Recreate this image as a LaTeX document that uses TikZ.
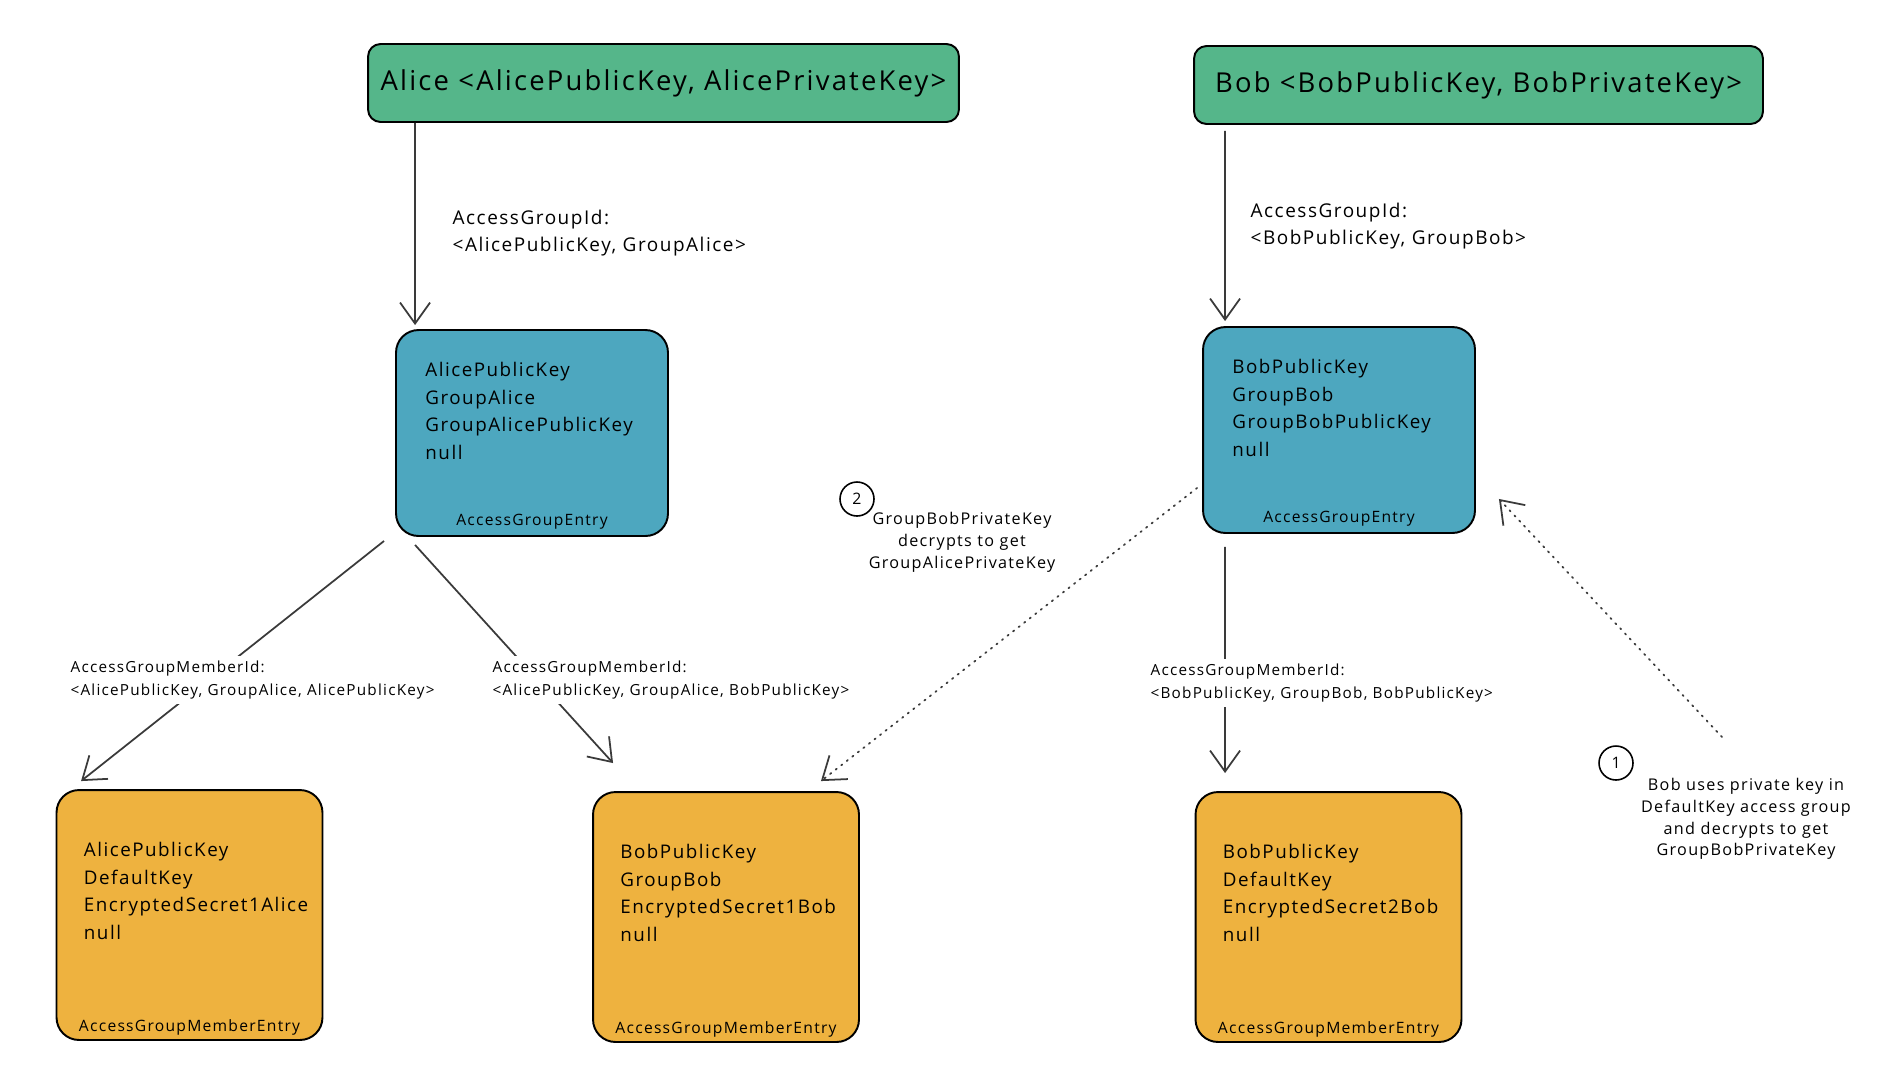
\documentclass[tikz,border=0pt]{standalone}
\usepackage{fontspec}
\setmainfont{Open Sans}[LetterSpace=8]
\usetikzlibrary{arrows.meta,positioning}

\definecolor{keygreen}{HTML}{55B68A}
\definecolor{entryblue}{HTML}{4DA7BF}
\definecolor{memberorange}{HTML}{EEB23F}
\definecolor{ink}{HTML}{3A3A3A}

\tikzset{
	%Define standard arrow tip
	>={Straight Barb[length=0.42cm,width=0.6cm]},
	%Define style for the key pair boxes
	keypair/.style={
		rectangle,
		rounded corners=0.25cm,
		draw=black, line width=1.1pt,
		fill=keygreen,
		minimum height=1.56cm,
		font=\fontsize{15.6}{18}\selectfont},
	%Define style for the entry boxes
	groupentry/.style={
		rectangle,
		rounded corners=0.45cm,
		draw=black, line width=1.1pt,
		fill=entryblue,
		minimum width=5.44cm,
		minimum height=4.12cm},
	memberentry/.style={
		groupentry,
		fill=memberorange,
		minimum width=5.32cm,
		minimum height=5cm},
	% text inside the boxes
	fields/.style={
		inner sep=0pt,
		align=left,
		font=\fontsize{10.7}{15.7}\selectfont},
	entryname/.style={
		inner sep=0pt,
		font=\fontsize{8.9}{12}\selectfont},
	% labels on the arrows
	groupid/.style={
		fill=white, inner sep=3pt, anchor=west, align=left,
		font=\fontsize{10.8}{15.7}\selectfont},
	memberid/.style={
		fill=white, inner sep=3pt, anchor=west, align=left,
		font=\fontsize{8.7}{13}\selectfont},
	stepnum/.style={
		circle, draw=black, line width=0.9pt,
		minimum size=0.68cm, inner sep=0pt,
		font=\fontsize{9}{10}\selectfont},
	note/.style={
		align=center,
		font=\fontsize{9.2}{12.4}\selectfont},
	% Define arrow styles
	pil/.style={
		->,
		draw=ink,
		line width=1pt},
	hint/.style={
		->,
		draw=ink,
		line width=1pt,
		dash pattern=on 0.8pt off 3.2pt,
		line cap=round}
}

\begin{document}
\begin{tikzpicture}[x=0.02cm, y=-0.02cm]
	\useasboundingbox (0,0) rectangle (1882,1066);

	\node[keypair, minimum width=11.82cm] (alice) at (663.5,83) {Alice <AlicePublicKey, AlicePrivateKey>};
	\node[keypair, minimum width=11.38cm] (bob) at (1478.5,85) {Bob <BobPublicKey, BobPrivateKey>};

	\node[groupentry] (agAlice) at (532,433) {};
	\node[fields, below right=0.66cm and 0.6cm of agAlice.north west] (agAlice-f) {AlicePublicKey\\ GroupAlice\\ GroupAlicePublicKey\\ null};
	\node[entryname, above=0.14cm of agAlice.south] (agAlice-n) {AccessGroupEntry};

	\node[groupentry] (agBob) at (1339,430) {};
	\node[fields, below right=0.66cm and 0.6cm of agBob.north west] (agBob-f) {BobPublicKey\\ GroupBob\\ GroupBobPublicKey\\ null};
	\node[entryname, above=0.14cm of agBob.south] (agBob-n) {AccessGroupEntry};

	\node[memberentry] (memAlice) at (189.5,915) {};
	\node[fields, below right=1.06cm and 0.56cm of memAlice.north west] (memAlice-f) {AlicePublicKey\\ DefaultKey\\ EncryptedSecret1Alice\\ null};
	\node[entryname, above=0.1cm of memAlice.south] (memAlice-n) {AccessGroupMemberEntry};

	\node[memberentry] (memBobA) at (726,917) {};
	\node[fields, below right=1.06cm and 0.56cm of memBobA.north west] (memBobA-f) {BobPublicKey\\ GroupBob\\ EncryptedSecret1Bob\\ null};
	\node[entryname, above=0.1cm of memBobA.south] (memBobA-n) {AccessGroupMemberEntry};

	\node[memberentry] (memBobB) at (1328.5,917) {};
	\node[fields, below right=1.06cm and 0.56cm of memBobB.north west] (memBobB-f) {BobPublicKey\\ DefaultKey\\ EncryptedSecret2Bob\\ null};
	\node[entryname, above=0.1cm of memBobB.south] (memBobB-n) {AccessGroupMemberEntry};

	\node[stepnum] (s2) at (857,499) {2};
	\node[note] (note2) at (962,542) {GroupBobPrivateKey\\ decrypts to get\\ GroupAlicePrivateKey};
	\node[stepnum] (s1) at (1616,763) {1};
	\node[note] (note1) at (1746,819) {Bob uses private key in\\ DefaultKey access group\\ and decrypts to get\\ GroupBobPrivateKey};
	\coordinate (n1tail) at (1722,737);

	\path
	([xshift=0.96cm]alice.south west) edge[pil] ([xshift=0.4cm,yshift=0.08cm]agAlice.north west)
	([xshift=0.64cm,yshift=-0.12cm]bob.south west) edge[pil] ([xshift=0.46cm,yshift=0.1cm]agBob.north west)
	([xshift=-0.22cm,yshift=-0.08cm]agAlice.south west) edge[pil] ([xshift=0.51cm,yshift=0.16cm]memAlice.north west)
	([xshift=0.4cm,yshift=-0.16cm]agAlice.south west) edge[pil] ([xshift=0.42cm,yshift=0.56cm]memBobA.north west)
	([xshift=0.46cm,yshift=-0.26cm]agBob.south west) edge[pil] ([xshift=0.61cm,yshift=0.36cm]memBobB.north west)
	([xshift=-0.1cm,yshift=0.92cm]agBob.south west) edge[hint] ([xshift=-0.78cm,yshift=0.2cm]memBobA.north east)
	(n1tail) edge[hint] ([xshift=0.46cm,yshift=0.7cm]agBob.south east)
	;

	\node[groupid] (idAlice) at (447,233) {AccessGroupId:\\ <AlicePublicKey, GroupAlice>};
	\node[groupid] (idBob) at (1245,226) {AccessGroupId:\\ <BobPublicKey, GroupBob>};
	\node[memberid] (midAlice) at (65,680) {AccessGroupMemberId:\\ <AlicePublicKey, GroupAlice, AlicePublicKey>};
	\node[memberid] (midBobA) at (487,680) {AccessGroupMemberId:\\ <AlicePublicKey, GroupAlice, BobPublicKey>};
	\node[memberid] (midBobB) at (1145,683) {AccessGroupMemberId:\\ <BobPublicKey, GroupBob, BobPublicKey>};

\end{tikzpicture}
\end{document}
